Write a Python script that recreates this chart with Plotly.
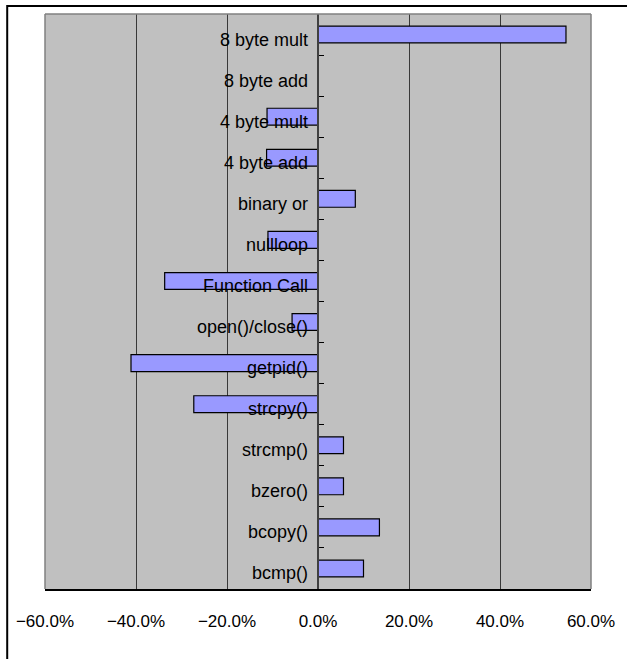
import plotly.graph_objects as go

categories = ["8 byte mult", "8 byte add", "4 byte mult", "4 byte add", "binary or",
              "nullloop", "Function Call", "open()/close()", "getpid()", "strcpy()",
              "strcmp()", "bzero()", "bcopy()", "bcmp()"]
values = [54.5, 0.0, -11.2, -11.3, 8.2, -11.0, -33.7, -5.7, -41.1, -27.3, 5.6, 5.6, 13.5, 10.0]
x_ticks = [-60, -40, -20, 0, 20, 40, 60]
x_tick_labels = ["\u221260.0%", "\u221240.0%", "\u221220.0%", "0.0%", "20.0%", "40.0%", "60.0%"]

W, H = 627, 659
L, R, T, B = 45, 33, 14, 70
pw, ph = W - L - R, H - T - B

def px_x(px):
    return (px - L) / pw

def px_y(py):
    return (H - B - py) / ph

fig = go.Figure()
fig.add_trace(go.Bar(
    y=categories, x=values, orientation="h", width=0.41,
    marker=dict(color="#9999FF", line=dict(color="#000000", width=1.2)),
    hoverinfo="x+y", showlegend=False,
))

annotations = []
for c in categories:
    annotations.append(dict(
        x=0, y=c, xref="x", yref="y", text=c, showarrow=False,
        xanchor="right", yanchor="middle", xshift=-8, yshift=-5,
        font=dict(family="Liberation Sans, Arial, sans-serif", size=18, color="#000000"),
    ))

shapes = [
    # plot area border (top, left, right)
    dict(type="line", xref="paper", yref="paper", x0=0, x1=1, y0=1, y1=1,
         line=dict(color="#808080", width=1.5)),
    dict(type="line", xref="paper", yref="paper", x0=0, x1=0, y0=0, y1=1,
         line=dict(color="#808080", width=1.5)),
    dict(type="line", xref="paper", yref="paper", x0=1, x1=1, y0=0, y1=1,
         line=dict(color="#808080", width=1.5)),
    # outer chart border (top & left visible in the crop)
    dict(type="rect", xref="paper", yref="paper",
         x0=px_x(7), x1=px_x(700), y0=px_y(720), y1=px_y(6),
         line=dict(color="#000000", width=2), fillcolor="rgba(0,0,0,0)"),
]

fig.update_layout(
    width=W, height=H,
    margin=dict(l=L, r=R, t=T, b=B, pad=0),
    paper_bgcolor="#FFFFFF",
    plot_bgcolor="#C0C0C0",
    bargap=0.59,
    annotations=annotations,
    shapes=shapes,
    xaxis=dict(
        range=[-60, 60], tickvals=x_ticks, ticktext=x_tick_labels,
        showgrid=True, gridcolor="#383838", gridwidth=1,
        zeroline=False, showline=True, linecolor="#000000", linewidth=1.5,
        ticks="", ticklabelstandoff=16,
        tickfont=dict(family="Liberation Sans, Arial, sans-serif", size=17, color="#000000"),
        fixedrange=True,
    ),
    yaxis=dict(
        type="category", autorange="reversed",
        anchor="free", position=0.5,
        showline=True, linecolor="#404040", linewidth=1.5,
        ticks="inside", tickson="boundaries", ticklen=5, tickcolor="#000000", tickwidth=1,
        showticklabels=False, showgrid=False, zeroline=False,
        fixedrange=True,
    ),
)

fig.write_html("out.html")
